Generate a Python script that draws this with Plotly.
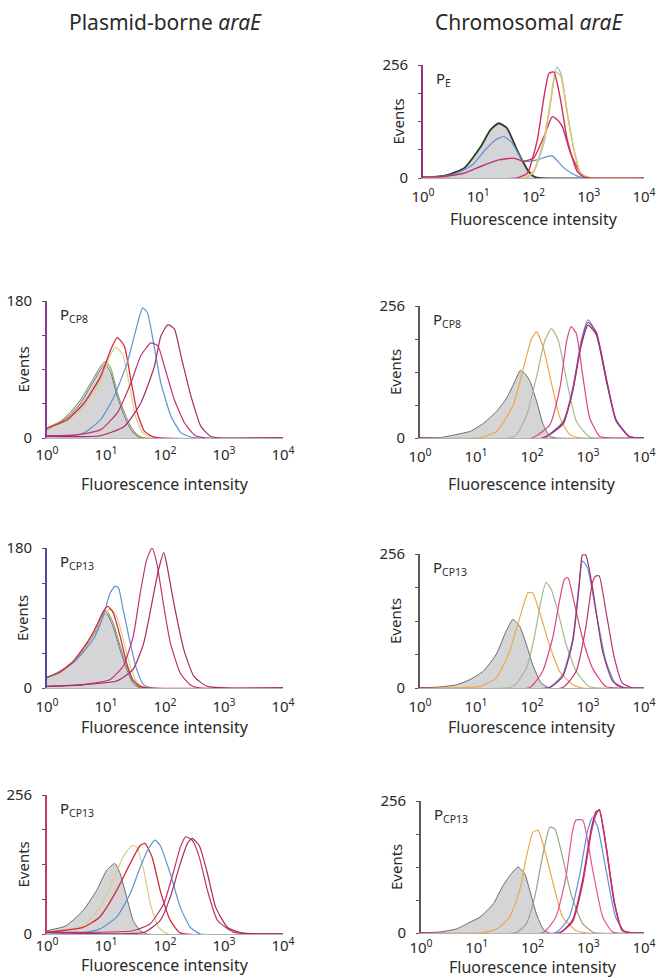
import plotly.graph_objects as go

W, H = 657, 980

# ---------------- data (x in log10 fluorescence intensity, y = events) ----------------
# Row 1, chromosomal araE, P_E
PE_GRAY_X = [0, 0.25, 0.45, 0.75, 1.05, 1.22, 1.37, 1.52, 1.70, 1.89, 2.0, 2.1, 4]
PE_GRAY_Y = [2, 3, 7, 23, 72, 109, 124, 113, 64, 19, 4, 0, 0]
PE_BLUE_X = [0, 0.3, 0.6, 0.9, 1.1, 1.3, 1.45, 1.6, 1.82, 2.07, 2.25, 2.34, 2.55, 2.73, 2.85, 3.0, 4]
PE_BLUE_Y = [2, 3, 10, 30, 60, 85, 94, 82, 38, 41, 49, 50, 23, 8, 2, 0, 0]
PE_MAG_X = [0, 0.4, 0.75, 1.04, 1.37, 1.64, 1.82, 2.0, 2.19, 2.34, 2.43, 2.52, 2.67, 2.85, 2.97, 4]
PE_MAG_Y = [2, 4, 11, 26, 41, 45, 38, 45, 94, 139, 132, 117, 56, 11, 2, 0]
PE_RED_X = [0, 1.7, 1.89, 2.07, 2.19, 2.28, 2.37, 2.49, 2.61, 2.79, 2.92, 4]
PE_RED_Y = [0, 0, 11, 87, 184, 237, 240, 177, 87, 15, 2, 0]
PE_YEL_X = [0, 1.85, 2.0, 2.19, 2.31, 2.40, 2.49, 2.61, 2.73, 2.85, 2.97, 4]
PE_YEL_Y = [0, 0, 15, 87, 177, 240, 232, 147, 64, 11, 2, 0]
PE_LBLUE_X = [0, 1.85, 2.0, 2.19, 2.31, 2.42, 2.5, 2.61, 2.73, 2.85, 2.97, 4]
PE_LBLUE_Y = [0, 0, 12, 80, 170, 252, 236, 150, 66, 12, 2, 0]

# Row 2, plasmid-borne araE, P_CP8
P8_GRAY_X = [0, 0.23, 0.40, 0.57, 0.74, 0.91, 0.99, 1.08, 1.19, 1.31, 1.42, 1.53, 1.65, 4]
P8_GRAY_Y = [11, 20, 31, 46, 68, 90, 97, 86, 55, 29, 11, 2, 0, 0]
P8_GRN_Y = [13, 22, 34, 50, 72, 94, 100, 92, 60, 34, 15, 4, 0, 0]
P8_RED_X = [0, 0.34, 0.63, 0.91, 1.08, 1.19, 1.31, 1.42, 1.53, 1.65, 1.82, 4]
P8_RED_Y = [13, 24, 46, 81, 116, 132, 121, 77, 33, 9, 1, 0]
P8_YEL_X = [0, 0.34, 0.63, 0.91, 1.05, 1.16, 1.28, 1.40, 1.50, 1.62, 1.78, 4]
P8_YEL_Y = [12, 22, 42, 75, 105, 119, 110, 68, 28, 7, 1, 0]
P8_BLUE_X = [0, 0.4, 0.63, 0.91, 1.14, 1.36, 1.51, 1.62, 1.70, 1.82, 1.93, 2.10, 2.27, 2.45, 4]
P8_BLUE_Y = [2, 3, 7, 24, 55, 99, 143, 171, 165, 119, 72, 29, 7, 1, 0]
P8_MAG1_X = [0, 0.5, 0.91, 1.19, 1.42, 1.59, 1.76, 1.88, 1.99, 2.16, 2.33, 2.50, 2.7, 4]
P8_MAG1_Y = [3, 4, 11, 33, 72, 108, 125, 121, 94, 50, 20, 4, 0, 0]
P8_MAG2_X = [0, 0.9, 1.31, 1.59, 1.82, 1.93, 2.05, 2.16, 2.27, 2.44, 2.61, 2.78, 2.95, 4]
P8_MAG2_Y = [2, 3, 15, 46, 94, 134, 149, 143, 108, 55, 15, 2, 0, 0]

# Row 2, chromosomal araE, P_CP8
C8_GRAY_X = [0, 0.37, 0.66, 0.90, 1.14, 1.37, 1.55, 1.70, 1.79, 1.88, 1.96, 2.08, 2.20, 2.32, 2.45, 4]
C8_GRAY_Y = [0, 1, 7, 13, 29, 52, 78, 111, 131, 124, 111, 72, 26, 3, 0, 0]
C8_ORG_X = [0, 1.08, 1.37, 1.67, 1.85, 1.99, 2.08, 2.20, 2.35, 2.50, 2.67, 2.9, 4]
C8_ORG_Y = [0, 1, 13, 65, 137, 192, 206, 176, 105, 39, 7, 0, 0]
C8_GRN_X = [0, 1.6, 1.73, 1.91, 2.08, 2.23, 2.35, 2.47, 2.62, 2.79, 3.03, 4]
C8_GRN_Y = [0, 0, 7, 46, 118, 189, 212, 189, 111, 33, 2, 0]
C8_MAG_X = [0, 2.0, 2.32, 2.50, 2.62, 2.70, 2.79, 2.91, 3.03, 3.21, 3.4, 4]
C8_MAG_Y = [0, 0, 26, 98, 189, 216, 203, 118, 39, 3, 0, 0]
C8_BLUE_X = [0, 2.2, 2.56, 2.73, 2.88, 3.00, 3.15, 3.33, 3.50, 3.74, 4]
C8_BLUE_Y = [0, 0, 33, 98, 189, 229, 203, 111, 33, 2, 0]
C8_PURP_Y = [0, 0, 30, 92, 180, 219, 200, 110, 35, 3, 0]
C8_PINK_Y = [0, 0, 28, 95, 185, 224, 205, 115, 36, 3, 0]

# Row 3, plasmid-borne araE, P_CP13
P13_GRAY_X = [0, 0.21, 0.44, 0.67, 0.84, 0.95, 1.01, 1.12, 1.24, 1.35, 1.46, 1.58, 4]
P13_GRAY_Y = [13, 19, 32, 54, 75, 92, 96, 79, 49, 24, 6, 0, 0]
P13_GRN_Y = [14, 20, 34, 57, 78, 95, 99, 84, 54, 28, 9, 1, 0]
P13_RED_X = [0, 0.21, 0.44, 0.67, 0.84, 0.95, 1.03, 1.12, 1.24, 1.35, 1.46, 1.58, 1.7, 4]
P13_RED_Y = [14, 20, 34, 57, 80, 98, 105, 97, 66, 32, 10, 2, 0, 0]
P13_YEL_X = [0, 0.21, 0.44, 0.67, 0.84, 0.97, 1.08, 1.18, 1.30, 1.41, 1.52, 1.64, 4]
P13_YEL_Y = [13, 19, 33, 55, 77, 94, 102, 92, 60, 28, 8, 1, 0]
P13_BLUE_X = [0, 0.44, 0.78, 0.95, 1.07, 1.15, 1.21, 1.29, 1.41, 1.52, 1.64, 1.8, 4]
P13_BLUE_Y = [13, 32, 62, 92, 122, 131, 129, 101, 58, 24, 4, 0, 0]
P13_MAG1_X = [0, 0.61, 1.07, 1.29, 1.46, 1.58, 1.69, 1.78, 1.86, 1.98, 2.09, 2.26, 2.43, 2.6, 4]
P13_MAG1_Y = [2, 4, 11, 28, 66, 122, 165, 180, 161, 105, 58, 19, 4, 0, 0]
P13_MAG2_X = [0, 1.18, 1.46, 1.64, 1.81, 1.89, 1.98, 2.03, 2.15, 2.32, 2.49, 2.72, 4]
P13_MAG2_Y = [2, 9, 24, 58, 122, 152, 174, 159, 109, 49, 15, 2, 0]

# Row 3, chromosomal araE, P_CP13
C13_GRAY_X = [0, 0.36, 0.65, 0.89, 1.13, 1.36, 1.54, 1.66, 1.78, 1.90, 2.01, 2.16, 2.31, 4]
C13_GRAY_Y = [0, 2, 6, 16, 32, 64, 109, 131, 118, 83, 45, 10, 0, 0]
C13_ORG_X = [0, 1.07, 1.36, 1.60, 1.78, 1.93, 2.01, 2.13, 2.31, 2.49, 2.73, 2.9, 4]
C13_ORG_Y = [0, 3, 19, 70, 134, 182, 182, 147, 83, 32, 6, 0, 0]
C13_GRN_X = [0, 1.66, 1.90, 2.04, 2.16, 2.25, 2.34, 2.46, 2.61, 2.79, 3.02, 4]
C13_GRN_Y = [0, 3, 38, 96, 166, 202, 189, 147, 83, 32, 3, 0]
C13_MAG1_X = [0, 1.96, 2.19, 2.37, 2.49, 2.58, 2.64, 2.76, 2.90, 3.08, 3.32, 4]
C13_MAG1_Y = [0, 1, 32, 96, 166, 208, 211, 160, 96, 38, 3, 0]
C13_BLUE_X = [0, 2.31, 2.55, 2.73, 2.84, 2.90, 2.99, 3.14, 3.32, 3.50, 3.7, 4]
C13_BLUE_Y = [0, 1, 26, 96, 198, 243, 230, 147, 51, 6, 0, 0]
C13_MAG2_X = [0, 2.31, 2.55, 2.73, 2.84, 2.90, 2.96, 3.08, 3.26, 3.44, 3.65, 4]
C13_MAG2_Y = [0, 1, 22, 90, 192, 254, 254, 192, 70, 13, 0, 0]
C13_MAG3_X = [0, 2.55, 2.79, 2.96, 3.08, 3.14, 3.20, 3.32, 3.47, 3.61, 3.8, 4]
C13_MAG3_Y = [0, 1, 32, 115, 202, 214, 214, 147, 58, 10, 0, 0]

# Row 4, plasmid-borne araE, P_CP13
P13B_GRAY_X = [0, 0.32, 0.61, 0.84, 1.01, 1.15, 1.24, 1.35, 1.46, 1.58, 1.7, 4]
P13B_GRAY_Y = [6, 15, 43, 80, 117, 130, 111, 68, 25, 6, 0, 0]
P13B_YEL_X = [0, 0.61, 0.89, 1.12, 1.29, 1.44, 1.52, 1.64, 1.75, 1.89, 2.05, 4]
P13B_YEL_Y = [3, 15, 49, 99, 142, 163, 160, 117, 56, 12, 0, 0]
P13B_RED_X = [0, 0.61, 0.89, 1.18, 1.41, 1.58, 1.66, 1.78, 1.92, 2.09, 2.26, 4]
P13B_RED_Y = [3, 12, 31, 80, 130, 163, 167, 142, 80, 25, 2, 0]
P13B_BLUE_X = [0, 0.61, 0.89, 1.18, 1.41, 1.58, 1.72, 1.83, 1.92, 2.09, 2.26, 2.43, 2.6, 4]
P13B_BLUE_Y = [2, 2, 9, 31, 74, 123, 157, 173, 163, 111, 49, 12, 0, 0]
P13B_MAG1_X = [0, 1.46, 1.75, 1.98, 2.15, 2.26, 2.35, 2.46, 2.58, 2.72, 2.89, 3.17, 4]
P13B_MAG1_Y = [3, 6, 19, 56, 117, 160, 179, 173, 142, 80, 25, 3, 0]
P13B_MAG2_X = [0, 1.64, 1.92, 2.09, 2.26, 2.38, 2.46, 2.58, 2.72, 2.86, 3.06, 3.3, 4]
P13B_MAG2_Y = [3, 3, 25, 68, 130, 167, 176, 163, 111, 49, 12, 2, 0]

# Row 4, chromosomal araE, P_CP13
C13B_GRAY_X = [0, 0.34, 0.64, 0.88, 1.06, 1.30, 1.47, 1.62, 1.74, 1.86, 1.95, 2.07, 2.19, 2.3, 4]
C13B_GRAY_Y = [0, 2, 8, 21, 31, 57, 92, 115, 128, 115, 83, 37, 8, 0, 0]
C13B_ORG_X = [0, 1.1, 1.36, 1.59, 1.77, 1.89, 2.01, 2.10, 2.22, 2.37, 2.54, 2.78, 3.0, 4]
C13B_ORG_Y = [0, 1, 8, 31, 83, 147, 196, 199, 160, 96, 31, 5, 0, 0]
C13B_GRN_X = [0, 1.71, 1.89, 2.04, 2.19, 2.31, 2.40, 2.54, 2.69, 2.90, 3.1, 4]
C13B_GRN_Y = [0, 1, 18, 70, 154, 205, 202, 147, 76, 18, 1, 0]
C13B_MAG1_X = [0, 2.19, 2.42, 2.60, 2.72, 2.78, 2.90, 3.08, 3.26, 3.44, 4]
C13B_MAG1_Y = [0, 1, 31, 109, 199, 219, 219, 122, 31, 2, 0]
C13B_BLUE_X = [0, 2.42, 2.66, 2.84, 2.99, 3.08, 3.17, 3.32, 3.49, 3.67, 4]
C13B_BLUE_Y = [0, 1, 31, 109, 199, 225, 205, 122, 31, 1, 0]
C13B_MAG2_X = [0, 2.5, 2.72, 2.90, 3.05, 3.14, 3.20, 3.32, 3.47, 3.61, 3.8, 4]
C13B_MAG2_Y = [0, 1, 25, 102, 199, 235, 238, 167, 57, 5, 0, 0]
C13B_MAG3_Y = [0, 1, 22, 95, 192, 230, 240, 170, 60, 6, 0, 0]

X_TICKS = [1, 10, 100, 1000, 10000]
X_TICKTEXT = ["10<sup>0</sup>", "10<sup>1</sup>", "10<sup>2</sup>", "10<sup>3</sup>", "10<sup>4</sup>"]
COL_TITLES = ["Plasmid-borne <i>araE</i>", "Chromosomal <i>araE</i>"]
X_TITLE = "Fluorescence intensity"
Y_TITLE = "Events"

# ---------------- styling ----------------
FONT = "Noto Sans"
TXT = "#2a2a2a"
GFILL = "#d5d5d7"
GLINE = "#6a6a6a"
BLUE = "#5d92d6"
LBLUE = "#93bbea"
MAG = "#c0326f"
MAG2 = "#a82a66"
PINK = "#d9457f"
RED = "#d6283c"
ORANGE = "#efa64c"
YEL = "#e9c45a"
LYEL = "#d6cf86"
GRN = "#a3bb8e"
DGRN = "#8aa070"
PURP = "#6a2d80"


def T(x, y, color, width=1.2, fill=False):
    return dict(x=x, y=y, color=color, width=width, fill=fill)


PANELS = [
    dict(xd=(423, 644), yd=(65, 178), ymax=256, label="P<sub>E</sub>", axcol="#9a2f80",
         tick_y=193, ttl=219,
         traces=[T(PE_GRAY_X, PE_GRAY_Y, "#2f3d28", 1.8, True),
                 T(PE_BLUE_X, PE_BLUE_Y, BLUE),
                 T(PE_MAG_X, PE_MAG_Y, MAG, 1.4),
                 T(PE_LBLUE_X, PE_LBLUE_Y, LBLUE),
                 T(PE_YEL_X, PE_YEL_Y, YEL, 1.5),
                 T(PE_RED_X, PE_RED_Y, "#cf2f62", 1.4)]),
    dict(xd=(47, 283), yd=(301, 438), ymax=180, label="P<sub>CP8</sub>", axcol="#8a3a90",
         tick_y=451, ttl=484,
         traces=[T(P8_GRAY_X, P8_GRAY_Y, GLINE, 1.0, True),
                 T(P8_GRAY_X, P8_GRN_Y, DGRN),
                 T(P8_YEL_X, P8_YEL_Y, LYEL),
                 T(P8_RED_X, P8_RED_Y, RED, 1.3),
                 T(P8_BLUE_X, P8_BLUE_Y, BLUE),
                 T(P8_MAG1_X, P8_MAG1_Y, MAG),
                 T(P8_MAG2_X, P8_MAG2_Y, MAG2)]),
    dict(xd=(420, 644), yd=(306, 438), ymax=256, label="P<sub>CP8</sub>", axcol="#5a5a5a",
         tick_y=453, ttl=484,
         traces=[T(C8_GRAY_X, C8_GRAY_Y, GLINE, 1.0, True),
                 T(C8_ORG_X, C8_ORG_Y, ORANGE),
                 T(C8_GRN_X, C8_GRN_Y, GRN),
                 T(C8_MAG_X, C8_MAG_Y, PINK),
                 T(C8_BLUE_X, C8_BLUE_Y, BLUE),
                 T(C8_BLUE_X, C8_PURP_Y, PURP),
                 T(C8_BLUE_X, C8_PINK_Y, MAG)]),
    dict(xd=(47, 283), yd=(548, 688), ymax=180, label="P<sub>CP13</sub>", axcol="#5548a0",
         tick_y=703, ttl=727,
         traces=[T(P13_GRAY_X, P13_GRAY_Y, GLINE, 1.0, True),
                 T(P13_GRAY_X, P13_GRN_Y, DGRN),
                 T(P13_YEL_X, P13_YEL_Y, LYEL),
                 T(P13_BLUE_X, P13_BLUE_Y, BLUE),
                 T(P13_RED_X, P13_RED_Y, RED, 1.3),
                 T(P13_MAG1_X, P13_MAG1_Y, MAG),
                 T(P13_MAG2_X, P13_MAG2_Y, MAG2)]),
    dict(xd=(420, 644), yd=(554, 688), ymax=256, label="P<sub>CP13</sub>", axcol="#5a5a5a",
         tick_y=703, ttl=727,
         traces=[T(C13_GRAY_X, C13_GRAY_Y, GLINE, 1.0, True),
                 T(C13_ORG_X, C13_ORG_Y, ORANGE),
                 T(C13_GRN_X, C13_GRN_Y, GRN),
                 T(C13_MAG1_X, C13_MAG1_Y, PINK),
                 T(C13_BLUE_X, C13_BLUE_Y, BLUE),
                 T(C13_MAG2_X, C13_MAG2_Y, MAG2),
                 T(C13_MAG3_X, C13_MAG3_Y, MAG)]),
    dict(xd=(47, 283), yd=(795, 934), ymax=256, label="P<sub>CP13</sub>", axcol="#c8386a",
         tick_y=942, ttl=965,
         traces=[T(P13B_GRAY_X, P13B_GRAY_Y, GLINE, 1.0, True),
                 T(P13B_YEL_X, P13B_YEL_Y, LYEL),
                 T(P13B_RED_X, P13B_RED_Y, RED, 1.3),
                 T(P13B_BLUE_X, P13B_BLUE_Y, BLUE),
                 T(P13B_MAG1_X, P13B_MAG1_Y, MAG),
                 T(P13B_MAG2_X, P13B_MAG2_Y, MAG2)]),
    dict(xd=(421, 644), yd=(801, 933), ymax=256, label="P<sub>CP13</sub>", axcol="#5a5a5a",
         tick_y=944, ttl=967,
         traces=[T(C13B_GRAY_X, C13B_GRAY_Y, GLINE, 1.0, True),
                 T(C13B_ORG_X, C13B_ORG_Y, ORANGE),
                 T(C13B_GRN_X, C13B_GRN_Y, "#92aa82"),
                 T(C13B_MAG1_X, C13B_MAG1_Y, "#e0558f"),
                 T(C13B_BLUE_X, C13B_BLUE_Y, BLUE),
                 T(C13B_MAG2_X, C13B_MAG2_Y, "#b0206a", 1.5),
                 T(C13B_MAG2_X, C13B_MAG3_Y, "#d43070")]),
]

TICK_FS = 15


def fx(p):
    return p / W


def fy(p):
    return 1 - p / H


fig = go.Figure()
layout = dict(
    template="none",
    width=W, height=H, margin=dict(l=0, r=0, t=0, b=0, autoexpand=False),
    paper_bgcolor="white", plot_bgcolor="white", showlegend=False,
    font=dict(family=FONT, size=14, color=TXT),
)
annotations = []

for i, p in enumerate(PANELS, start=1):
    sfx = "" if i == 1 else str(i)
    xa, ya = "x" + sfx, "y" + sfx
    for t in p["traces"]:
        fig.add_trace(go.Scatter(
            x=[10 ** v for v in t["x"]], y=t["y"], mode="lines",
            line=dict(color=t["color"], width=t["width"], shape="spline", smoothing=0.5),
            fill="tozeroy" if t["fill"] else None,
            fillcolor=GFILL if t["fill"] else None,
            xaxis=xa, yaxis=ya, hoverinfo="skip", showlegend=False))
    x0, x1 = p["xd"]
    y0, y1 = p["yd"]
    ymax = p["ymax"]
    stand = p["tick_y"] - y1 - 10
    layout["xaxis" + sfx] = dict(
        domain=[fx(x0), fx(x1)], anchor=ya, type="log", range=[0, 4], automargin=False,
        tickvals=X_TICKS, ticktext=X_TICKTEXT, ticks="", ticklabelstandoff=stand,
        ticklabeloverflow="allow",
        tickfont=dict(size=TICK_FS, color=TXT), showgrid=False, zeroline=False,
        showline=True, linecolor="#b3b3b3", linewidth=1, fixedrange=True)
    layout["yaxis" + sfx] = dict(
        domain=[fy(y1), fy(y0)], anchor=xa, range=[0, ymax], automargin=False,
        tickvals=[0, ymax], ticktext=["0", str(ymax)], ticks="", ticklabelstandoff=10,
        ticklabeloverflow="allow",
        tickfont=dict(size=TICK_FS, color=TXT), showgrid=False, zeroline=False,
        showline=True, linecolor=p["axcol"], linewidth=1.6, fixedrange=True,
        minor=dict(ticks="outside", ticklen=3, tickwidth=1, tickcolor="#555",
                   dtick=ymax / 4, tick0=0, showgrid=False))
    annotations.append(dict(text=p["label"], x=fx(x0 + 11), y=fy(y0 + 14), xref="paper", yref="paper",
                            xanchor="left", yanchor="middle", showarrow=False,
                            font=dict(size=15, color=TXT)))
    annotations.append(dict(text=Y_TITLE, x=fx(x0 - 25), y=fy((y0 + y1) / 2), xref="paper", yref="paper",
                            xanchor="center", yanchor="middle", textangle=-90, showarrow=False,
                            font=dict(size=15, color=TXT)))
    annotations.append(dict(text=X_TITLE, x=fx((x0 + x1) / 2), y=fy(p["ttl"]), xref="paper", yref="paper",
                            xanchor="center", yanchor="middle", showarrow=False,
                            font=dict(size=16, color=TXT)))

for txt, cx in zip(COL_TITLES, [165, 529]):
    annotations.append(dict(text=txt, x=fx(cx), y=fy(22), xref="paper", yref="paper",
                            xanchor="center", yanchor="middle", showarrow=False,
                            font=dict(size=21, color=TXT)))

layout["annotations"] = annotations
fig.update_layout(**layout)
fig.write_html("out.html", config={"displayModeBar": False},
               post_script="document.body.style.margin='0';document.body.style.padding='0';")
